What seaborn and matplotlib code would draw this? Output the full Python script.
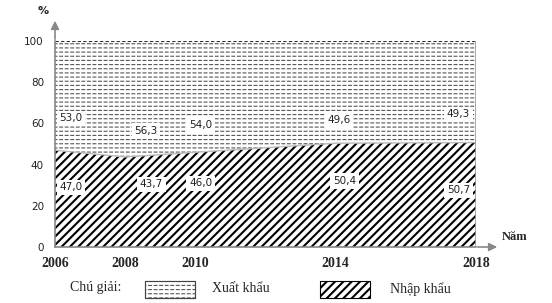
import matplotlib
matplotlib.use("Agg")
import matplotlib.pyplot as plt
import seaborn as sns
import pandas as pd
from matplotlib.patches import Rectangle

years = [2006, 2008, 2010, 2014, 2018]
nhap_khau = [47.0, 43.7, 46.0, 50.4, 50.7]
xuat_khau = [53.0, 56.3, 54.0, 49.6, 49.3]
xuat_labels = ["53,0", "56,3", "54,0", "49,6", "49,3"]
nhap_labels = ["47,0", "43,7", "46,0", "50,4", "50,7"]
yticks = [0, 20, 40, 60, 80, 100]

sns.set_theme(style="white")
plt.rcParams["font.family"] = ["DejaVu Sans"]

df = pd.DataFrame({"Năm": years, "Nhập khẩu": nhap_khau,
                   "Tổng": [a + b for a, b in zip(nhap_khau, xuat_khau)]})

fig = plt.figure(figsize=(5.52, 3.03), dpi=100)
ax = fig.add_axes([55/552, 56/303, 421/552, 206/303])

plt.rcParams["hatch.linewidth"] = 1.5
ax.fill_between(df["Năm"], 0, df["Nhập khẩu"], facecolor="white",
                edgecolor="black", hatch="////", linewidth=0)
plt.rcParams["hatch.linewidth"] = 0.8
ax.fill_between(df["Năm"], df["Nhập khẩu"], df["Tổng"], facecolor="white",
                edgecolor="#555555", hatch="----", linewidth=0)
plt.rcParams["hatch.linewidth"] = 1.2
ax.fill_between(df["Năm"], df["Nhập khẩu"], df["Tổng"], facecolor="none",
                edgecolor="white", hatch="|||", linewidth=0)
sns.lineplot(data=df, x="Năm", y="Nhập khẩu", ax=ax, color="#bbbbbb", lw=1.0)
sns.lineplot(data=df, x="Năm", y="Tổng", ax=ax, color="#333333", lw=0.8,
             linestyle=(0, (3, 2)))
ax.axvline(2018, color="#999999", lw=1.2)

ax.set_xlim(2006, 2018)
ax.set_ylim(0, 100)
ax.set_xticks(range(2006, 2019))
ax.set_xticklabels([str(y) if y in years else "" for y in range(2006, 2019)],
                   family="Liberation Serif", fontsize=10, fontweight="bold")
ax.set_yticks(yticks)
ax.set_yticklabels([str(v) for v in yticks], fontsize=7.5, color="#222222")
ax.tick_params(axis="both", length=4, width=0.8, color="#888888", pad=4)
ax.tick_params(axis="x", pad=3)
ax.set_xlabel("")
ax.set_ylabel("")
for s in ["top", "right"]:
    ax.spines[s].set_visible(False)
for s in ["left", "bottom"]:
    ax.spines[s].set_color("#888888")
    ax.spines[s].set_linewidth(1.2)

# axis arrows
ax.annotate("", xy=(55/552, 1 - 18/303), xytext=(55/552, 1 - 42/303),
            xycoords="figure fraction",
            arrowprops=dict(arrowstyle="-|>", color="#888888", lw=1.2))
ax.annotate("", xy=(500/552, 56/303), xytext=(475/552, 56/303),
            xycoords="figure fraction",
            arrowprops=dict(arrowstyle="-|>", color="#888888", lw=1.2))
fig.text(43/552, 1 - 11/303, "%", fontsize=8, fontweight="bold", ha="center", va="center")
fig.text(515/552, 1 - 237/303, "Năm", family="Liberation Serif", fontsize=9,
         fontweight="bold", ha="center", va="center")

box = dict(boxstyle="square,pad=0.25", fc="white", ec="none")
xoff = [0.45, 0.6, 0.15, 0.1, -0.5]
xy_up = [62.5, 56.5, 59, 61.5, 64.5]
xy_dn = [29, 30.5, 31, 32, 27.5]
for i, y in enumerate(years):
    ax.text(y + xoff[i], xy_up[i], xuat_labels[i], fontsize=7.5, ha="center",
            va="center", bbox=box, color="#222222")
    ax.text(y + xoff[i] + (0.15 if i in (1, 3) else 0), xy_dn[i], nhap_labels[i],
            fontsize=7.5, ha="center", va="center", bbox=box, color="#222222")

# legend
fig.text(70/552, 1 - 288/303, "Chú giải:", family="Liberation Serif",
         fontsize=10, ha="left", va="center")
rect = (145/552, 1 - 298/303)
plt.rcParams["hatch.linewidth"] = 0.8
fig.patches.append(Rectangle(rect, 50/552, 17/303,
                             transform=fig.transFigure, facecolor="white",
                             edgecolor="#555555", hatch="----", lw=0.8))
plt.rcParams["hatch.linewidth"] = 1.2
fig.patches.append(Rectangle(rect, 50/552, 17/303,
                             transform=fig.transFigure, facecolor="none",
                             edgecolor="white", hatch="|||", lw=0))
fig.patches.append(Rectangle(rect, 50/552, 17/303,
                             transform=fig.transFigure, facecolor="none",
                             edgecolor="#444444", lw=0.8))
fig.text(212/552, 1 - 289/303, "Xuất khẩu", family="Liberation Serif",
         fontsize=10, ha="left", va="center")
plt.rcParams["hatch.linewidth"] = 1.5
fig.patches.append(Rectangle((320/552, 1 - 298/303), 50/552, 17/303,
                             transform=fig.transFigure, facecolor="white",
                             edgecolor="black", hatch="////", lw=0.8))
fig.text(390/552, 1 - 289/303, "Nhập khẩu", family="Liberation Serif",
         fontsize=10, ha="left", va="center")

fig.savefig("out.png", dpi=100)
